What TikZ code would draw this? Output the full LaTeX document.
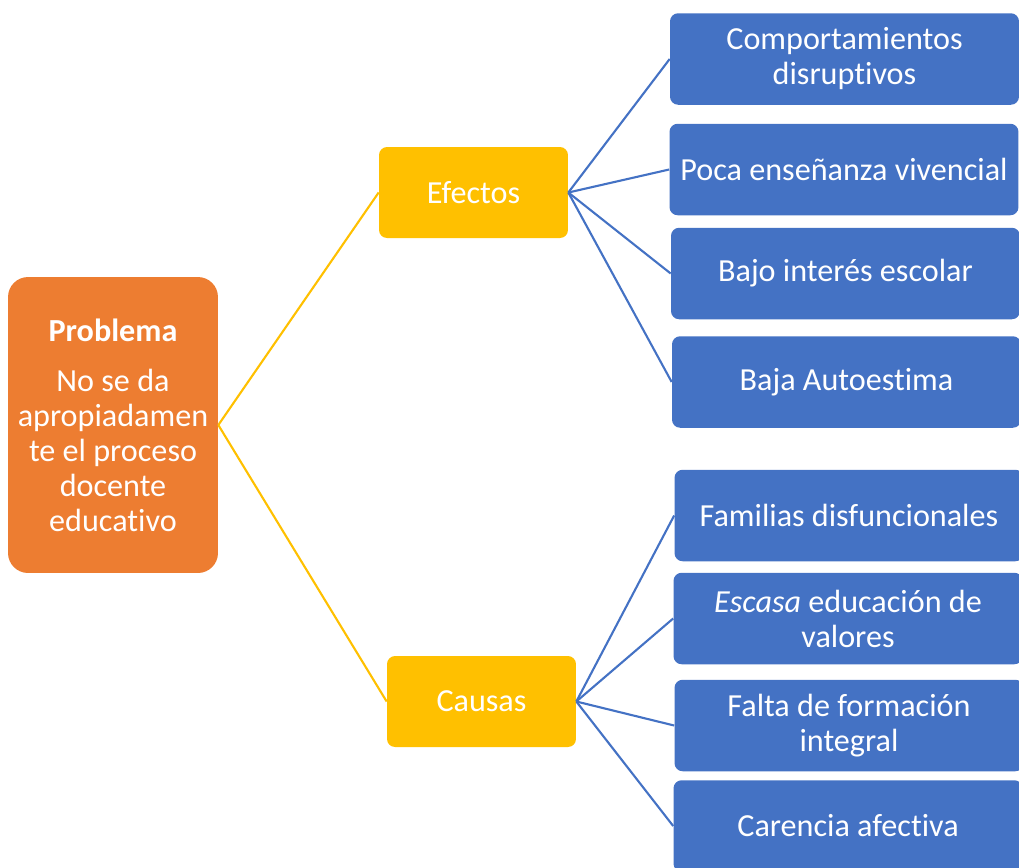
\documentclass[tikz,border=0pt]{standalone}
\usepackage{fontspec}
\setmainfont{Carlito}[Ligatures=NoCommon]
\usepackage{tikz}

\definecolor{orangebox}{HTML}{ED7D31}
\definecolor{yellowbox}{HTML}{FFC000}
\definecolor{bluebox}{HTML}{4472C4}

\begin{document}
\begin{tikzpicture}[x=0.02cm,y=-0.02cm,
		txt/.style={text=white, align=center, inner sep=0pt, font=\fontsize{18.3}{19.9}\selectfont},
		probbox/.style={txt, fill=orangebox, rounded corners=0.4cm, minimum width=4.2cm, minimum height=5.92cm},
		midbox/.style={txt, fill=yellowbox, rounded corners=0.16cm, minimum width=3.78cm, minimum height=1.82cm},
		leafbox/.style={txt, fill=bluebox, rounded corners=0.16cm, minimum width=6.98cm, minimum height=1.83cm},
		yline/.style={draw=yellowbox, line width=1.2pt},
		bline/.style={draw=bluebox, line width=1.2pt}]
				\useasboundingbox (0,0) rectangle (1019,867);
				\clip (0,0) rectangle (1019,867);
				% problem, effects and causes
				\node[probbox] (P) at (113,425) {\textbf{Problema}\\[8.5pt]No se da\\apropiadamen\\te el proceso\\docente\\educativo};
				\node[midbox] (Ef) at (473.5,192.5) {Efectos};
				\node[midbox] (Ca) at (481.5,701.5) {Causas};
				
				\node[leafbox] (E1) at (844.5,59) {Comportamientos\\disruptivos};
				\node[leafbox] (E2) at (844,169.5) {Poca enseñanza vivencial};
				\node[leafbox] (E3) at (845.5,273.5) {Bajo interés escolar};
				\node[leafbox] (E4) at (846.5,382) {Baja Autoestima};
				
				\node[leafbox] (C1) at (849,515.5) {Familias disfuncionales};
				\node[leafbox] (C2) at (848,618.5) {\textit{Escasa} educación de\\valores};
				\node[leafbox] (C3) at (849,725.5) {Falta de formación\\integral};
				\node[leafbox] (C4) at (848,826) {Carencia afectiva};
				
				\draw[yline] (P.east) -- (Ef.west);
				\draw[yline] (P.east) -- (Ca.west);
				\foreach \n in {E1,E2,E3,E4}
					\draw[bline] (Ef.east) -- (\n.west);
				\foreach \n in {C1,C2,C3,C4}
					\draw[bline] (Ca.east) -- (\n.west);
			\end{tikzpicture}
\end{document}
